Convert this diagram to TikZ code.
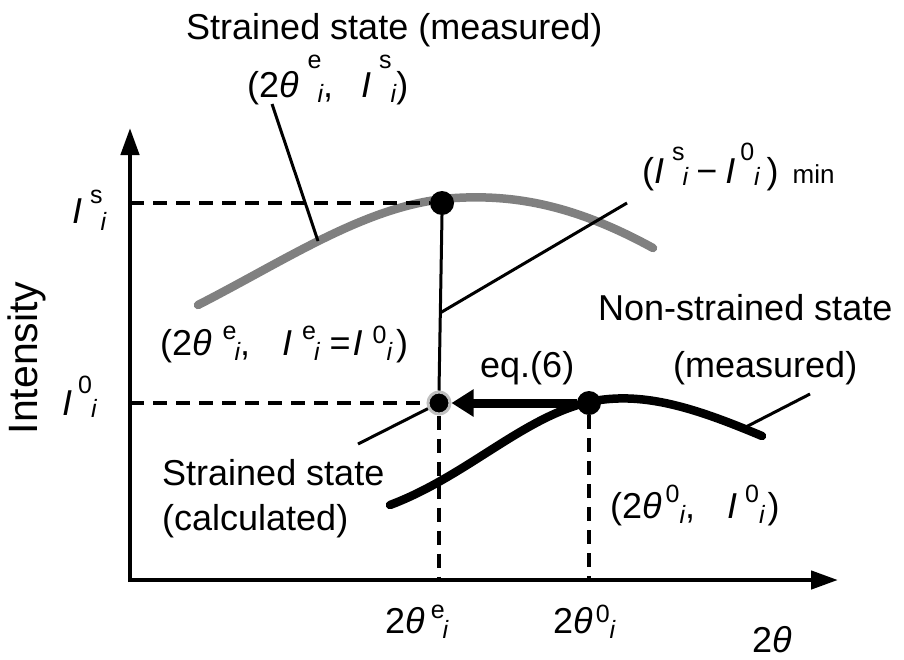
\documentclass[tikz,border=0pt]{standalone}
\usepackage{fontspec}
\setmainfont{Liberation Sans}
\usetikzlibrary{arrows.meta}
\definecolor{curvegray}{HTML}{808080}
\definecolor{ringgray}{HTML}{C0C0C0}
\newcommand{\su}[2]{\raisebox{#1}{\fontsize{25}{25}\selectfont #2}}
\newcommand{\subi}[1]{\raisebox{-#1}{\fontsize{25}{25}\selectfont\itshape i}}
\newcommand{\tth}{\textit{θ}}
\newcommand{\II}{\textit{I}}
\tikzset{
  lbl/.style={inner sep=0, anchor=base west, font=\fontsize{36}{40}\selectfont},
  axis/.style={line width=4.5pt, -{Triangle[length=27pt,width=18pt]}},
  guide/.style={line width=4.5pt, dash pattern=on 14pt off 9pt},
  leader/.style={line width=3pt},
  dot/.style={circle, fill=black, inner sep=0, minimum size=24pt},
  ringdot/.style={circle, fill=black, draw=ringgray, line width=3pt, inner sep=0, minimum size=22pt},
  curve/.style={line width=8.5pt, line cap=round},
  bigarrow/.style={line width=9pt, -{Triangle[length=22pt,width=26pt]}}
}
\begin{document}
\begin{tikzpicture}[x=1pt,y=-1pt]
\useasboundingbox (0,0) rectangle (904,659);
% axes
\coordinate (O) at (130,580);
\coordinate (ytip) at (130,128);
\coordinate (xtip) at (838,580);
\draw[axis] (130,582) -- (ytip);
\draw[axis] (128,580) -- (xtip);
% curves
\draw[curve, curvegray] (198,305) .. controls (290,258) and (370,203) .. (455,198) .. controls (520,194) and (580,208) .. (653,248);
\draw[curve, black] (390,505) .. controls (470,475) and (530,410) .. (600,400) .. controls (650,393) and (700,410) .. (762,436);
% dots
\node[dot] (Ps) at (442,203) {};
\node[dot] (P0) at (589,403) {};
\node[ringdot] (Pe) at (439,403) {};
% guide coordinates
\coordinate (ys) at (130,203);
\coordinate (y0) at (130,403);
\coordinate (xe) at (439,580);
\coordinate (x0) at (589,580);
\draw[guide] (ys) -- (Ps.west);
\draw[guide] (y0) -- (Pe.west);
\draw[guide] (Pe.south) -- (xe);
\draw[guide] (P0.south) -- (x0);
% vertical solid
\draw[line width=3pt] (Ps.south) -- (Pe.north);
% eq.(6) arrow
\draw[bigarrow] (P0.west) -- (Pe.east);
% leaders
\coordinate (a1) at (272,104);
\coordinate (b1) at (318,241);
\draw[leader] (a1) -- (b1);
\coordinate (a2) at (440,313);
\coordinate (b2) at (627,203);
\draw[leader] (a2) -- (b2);
\coordinate (a3) at (358,444);
\draw[leader] (a3) -- (Pe);
\coordinate (a4) at (740,430);
\coordinate (b4) at (810,394);
\draw[leader] (a4) -- (b4);
% labels
\node[lbl] (t1) at (186,39) {Strained state (measured)};
\node[lbl] (t2) at (247,97) {(2\tth\kern9pt\su{0.8em}{e}\kern-4pt\subi{0.14em},\hspace{28pt}\II\kern8pt\su{0.8em}{s}\kern-1pt\subi{0.14em})};
\node[lbl] (t3) at (642,183) {(\II\kern8pt\su{0.62em}{s}\kern-2pt\subi{0.06em}\kern8pt−\kern8pt\II\kern5pt\su{0.62em}{0}\kern0pt\subi{0.06em}\kern7pt)\kern14pt{\fontsize{26}{26}\selectfont min}};
\node[lbl] (lis) at (72,223) {\II\kern8pt\su{0.55em}{s}\kern-2pt\subi{0.2em}};
\node[lbl] (li0) at (62,415) {\II\kern6pt\su{0.6em}{0}\kern-1pt\subi{0.08em}};
\node[inner sep=0, rotate=90, font=\fontsize{41}{44}\selectfont] (lint) at (27,358) {Intensity};
\node[lbl] (t4) at (160,355) {(2\tth\kern11pt\su{0.43em}{e}\kern-2pt\subi{0.14em},\hspace{32pt}\II\kern10pt\su{0.43em}{e}\kern-2pt\subi{0.14em}\kern10pt=\kern2pt\II\kern10pt\su{0.33em}{0}\kern0pt\subi{0.14em}\kern4pt)};
\node[lbl] (teq) at (480,377) {eq.(6)};
\node[lbl] (tn1) at (598,320) {Non-strained state};
\node[lbl] (tn2) at (673,377) {(measured)};
\node[lbl] (tc1) at (162,485) {Strained state};
\node[lbl] (tc2) at (162,530) {(calculated)};
\node[lbl] (t5) at (610,518) {(2\tth\kern4pt\su{0.42em}{0}\kern0pt\subi{0.14em},\hspace{32pt}\II\kern8pt\su{0.42em}{0}\kern0pt\subi{0.14em}\kern3pt)};
\node[lbl] (xel) at (385,633) {2\tth\kern6pt\su{0.4em}{e}\kern-2pt\subi{0.14em}};
\node[lbl] (x0l) at (553,633) {2\tth\kern3pt\su{0.3em}{0}\kern0pt\subi{0.14em}};
\node[lbl] (xl) at (752,652) {2\tth};
\end{tikzpicture}
\end{document}
